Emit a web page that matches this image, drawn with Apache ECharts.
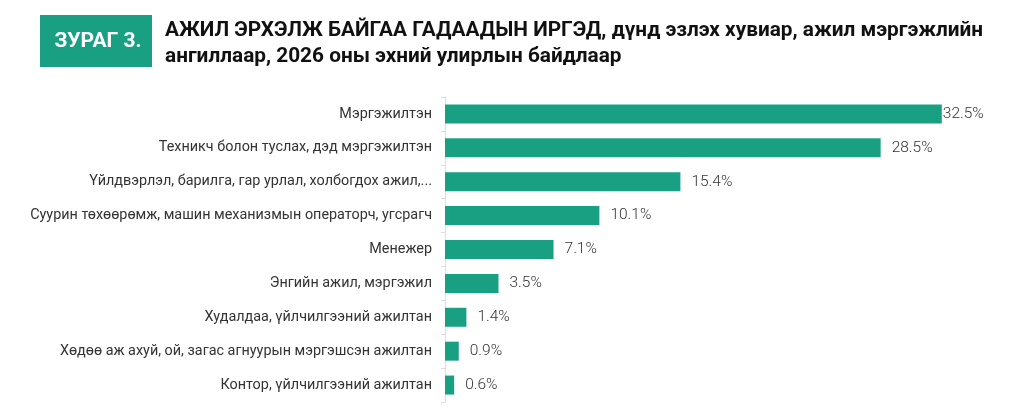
<!DOCTYPE html>
<html>
<head>
<meta charset="utf-8">
<script src="https://cdn.jsdelivr.net/npm/echarts@6/dist/echarts.min.js"></script>
<style>
  html, body { margin: 0; padding: 0; background: #fff; }
  #chart { width: 1024px; height: 415px; }
</style>
</head>
<body>
<div id="chart"></div>
<script>
// Data
const categories = [
  "Мэргэжилтэн",
  "Техникч болон туслах, дэд мэргэжилтэн",
  "Үйлдвэрлэл, барилга, гар урлал, холбогдох ажил,...",
  "Суурин төхөөрөмж, машин механизмын операторч, угсрагч",
  "Менежер",
  "Энгийн ажил, мэргэжил",
  "Худалдаа, үйлчилгээний ажилтан",
  "Хөдөө аж ахуй, ой, загас агнуурын мэргэшсэн ажилтан",
  "Контор, үйлчилгээний ажилтан"
];
const shares = [32.5, 28.5, 15.4, 10.1, 7.1, 3.5, 1.4, 0.9, 0.6];

const teal = "#19a083";
const titleFont = "bold 20.8px Roboto, sans-serif";

let myChart = echarts.init(document.getElementById("chart"));

// the longest bar's label sits right against the bar end
let barData = shares.map(function (v, i) {
  return i === 0 ? { value: v, label: { distance: 1 } } : v;
});

let option = {
  animation: false,
  grid: {
    left: 445,
    right: 44,
    top: 97,
    bottom: 13
  },
  xAxis: {
    type: "value",
    min: 0,
    max: 35,
    show: false
  },
  yAxis: {
    type: "category",
    data: categories,
    inverse: true,
    axisLine: { show: true, lineStyle: { color: "#dedede", width: 1 } },
    axisTick: { show: true, length: 4, lineStyle: { color: "#dedede" } },
    axisLabel: {
      color: "#333",
      fontFamily: "Roboto",
      fontSize: 14.4,
      margin: 13
    }
  },
  series: [
    {
      type: "bar",
      data: barData,
      barWidth: 19,
      itemStyle: { color: teal },
      label: {
        show: true,
        position: "right",
        distance: 11,
        color: "#333",
        fontFamily: "Roboto",
        fontWeight: 300,
        fontSize: 15.5,
        formatter: function (p) {
          return p.value.toFixed(1) + "%";
        }
      }
    }
  ],
  graphic: [
    {
      type: "rect",
      shape: { x: 40, y: 15, width: 112, height: 52 },
      style: { fill: teal }
    },
    {
      type: "text",
      x: 98,
      y: 42,
      style: {
        text: "ЗУРАГ 3.",
        fill: "#fff",
        font: "bold 21px Roboto, sans-serif",
        textAlign: "center",
        textVerticalAlign: "middle"
      }
    },
    {
      type: "text",
      x: 165,
      y: 31,
      style: {
        text: "АЖИЛ ЭРХЭЛЖ БАЙГАА ГАДААДЫН ИРГЭД, дүнд эзлэх хувиар, ажил мэргэжлийн",
        fill: "#111",
        font: titleFont,
        textVerticalAlign: "middle"
      }
    },
    {
      type: "text",
      x: 165,
      y: 57,
      style: {
        text: "ангиллаар, 2026 оны эхний улирлын байдлаар",
        fill: "#111",
        font: titleFont,
        textVerticalAlign: "middle"
      }
    }
  ]
};

myChart.setOption(option);
</script>
</body>
</html>
